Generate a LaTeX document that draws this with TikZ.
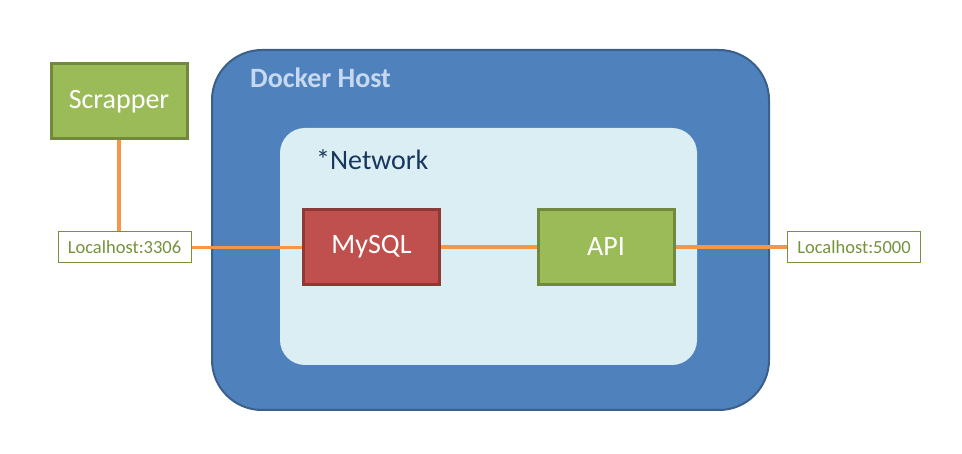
\documentclass[tikz,border=0pt]{standalone}
\usepackage{fontspec}
\setmainfont{Carlito}
\usepackage{tikz}
\usetikzlibrary{shapes,arrows}
\definecolor{hostblue}{HTML}{4F81BD}
\definecolor{hostedge}{HTML}{3A5F8B}
\definecolor{netfill}{HTML}{DBEEF4}
\definecolor{nettext}{HTML}{17375E}
\definecolor{hosttext}{HTML}{C6D9F1}
\definecolor{boxgreen}{HTML}{9BBB59}
\definecolor{edgegreen}{HTML}{71893F}
\definecolor{boxred}{HTML}{C0504D}
\definecolor{edgered}{HTML}{8C3A38}
\definecolor{portgreen}{HTML}{76923C}
\definecolor{wire}{HTML}{F79646}
\newcommand{\bigfont}{\fontsize{28}{31}\selectfont}
\tikzstyle{service} = [rectangle, draw, line width=3pt, fill=boxgreen, draw=edgegreen,
    text=white, font=\bigfont, minimum width=136pt, minimum height=75pt]
\tikzstyle{db} = [service, fill=boxred, draw=edgered]
\tikzstyle{port} = [rectangle, draw=portgreen, fill=white, line width=1pt,
    text=portgreen, font=\fontsize{18.5}{21}\selectfont, minimum width=133pt, minimum height=31pt]
\tikzstyle{line} = [draw=wire, line width=3.2pt]

\begin{document}
\begin{tikzpicture}[x=1pt, y=-1pt]
    \useasboundingbox (0,0) rectangle (962,454);
    % Place nodes
    \node [rectangle, draw=hostedge, line width=2pt, fill=hostblue, rounded corners=50pt,
        minimum width=557pt, minimum height=360pt] (host) at (490.5,230) {};
    \node [rectangle, fill=netfill, rounded corners=25pt,
        minimum width=417pt, minimum height=237pt] (net) at (488.5,246.5) {};
    \node [anchor=west, text=hosttext, font=\bigfont\bfseries, inner sep=0pt] (hostlabel) at (250,78) {Docker Host};
    \node [anchor=west, text=nettext, font=\bigfont, inner sep=0pt] (netlabel) at (316,160) {*Network};

    \node [service] (scrapper) at (119,101.5) {Scrapper};
    \node [db] (mysql) at (371.5,247) {MySQL};
    \node [service] (api) at (606,247) {API};

    \node [port] (lh3306) at (124.5,247.5) {Localhost:3306};
    \node [port] (lh5000) at (854,247) {Localhost:5000};

    % Draw edges
    \path [line] (scrapper.south) -- (scrapper.south |- lh3306.north);
    \path [line] (lh3306.east) -- (lh3306.east -| mysql.west);
    \path [line] (mysql) -- (api);
    \path [line] (api) -- (lh5000);
\end{tikzpicture}
\end{document}
